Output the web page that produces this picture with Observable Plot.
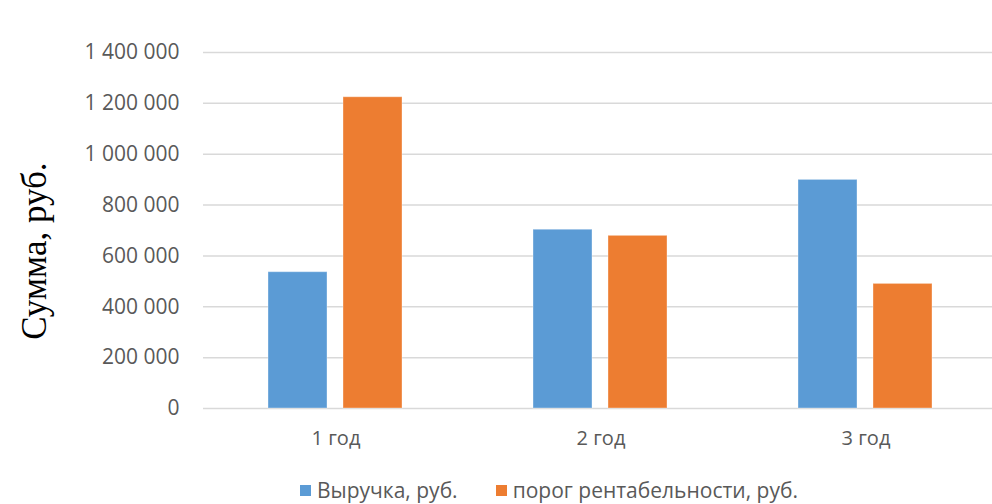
<!DOCTYPE html>
<html><head><meta charset="utf-8">
<script src="https://cdn.jsdelivr.net/npm/d3@7"></script>
<script src="https://cdn.jsdelivr.net/npm/@observablehq/plot@0.6"></script>
<style>
body{margin:0;background:#fff;width:992px;height:504px;overflow:hidden;font-family:"Open Sans",sans-serif;}
#chart svg{display:block;}
#legend{display:flex;justify-content:center;align-items:center;height:32px;padding-top:8px;gap:38px;color:#595959;font-size:21px;line-height:1;padding-left:106px;box-sizing:border-box;}
#legend .item{display:flex;align-items:center;gap:6px;}
#legend .sw{width:11px;height:11px;display:inline-block;}
</style></head><body><div id="chart"></div><div id="legend"></div>
<script>
const years = ["1 год", "2 год", "3 год"];
const seriesNames = ["Выручка, руб.", "порог рентабельности, руб."];
const revenue = [536000, 703000, 899000];
const breakEven = [1224000, 679000, 490000];
const yTicks = [0, 200000, 400000, 600000, 800000, 1000000, 1200000, 1400000];
const colors = ["#5B9BD5", "#ED7D31"];
const yLabel = "Сумма, руб.";

const data = years.flatMap((y, i) => [
  {year: y, series: seriesNames[0], value: revenue[i]},
  {year: y, series: seriesNames[1], value: breakEven[i]}
]);
const fmt = d => d3.format(",")(d).replace(/,/g, " ");

const chart = Plot.plot({
  width: 992, height: 470,
  marginLeft: 203, marginRight: -6, marginTop: 52, marginBottom: 62,
  style: {fontFamily: "Open Sans", fontSize: "20px", color: "#595959", background: "white", overflow: "hidden"},
  fx: {domain: years, padding: 0, label: null, axis: null},
  x: {domain: seriesNames, paddingInner: 0.21, paddingOuter: 0.85, axis: null},
  y: {domain: [0, 1400000], label: null},
  color: {domain: seriesNames, range: colors},
  marks: [
    Plot.ruleY(yTicks, {stroke: "#d9d9d9", strokeWidth: 1.5}),
    Plot.barY(data, {fx: "year", x: "series", y: "value", fill: "series", stroke: "white", strokeOpacity: 0.35, strokeWidth: 1}),
    Plot.axisY(yTicks, {tickFormat: fmt, tickSize: 0, tickPadding: 24, label: null, fill: "#595959", fontSize: 21}),
    Plot.axisFx({anchor: "bottom", tickSize: 0, tickPadding: 22, label: null, fill: "#595959"})
  ]
});
document.getElementById("chart").appendChild(chart);

d3.select(chart).append("text")
  .attr("transform", "translate(34,251) rotate(-90)")
  .attr("text-anchor", "middle")
  .attr("dominant-baseline", "central")
  .attr("font-family", "'Liberation Serif', serif")
  .attr("font-size", 35)
  .attr("fill", "#000")
  .text(yLabel);

const legend = d3.select("#legend");
seriesNames.forEach((s, i) => {
  const it = legend.append("div").attr("class", "item");
  it.append("span").attr("class", "sw").style("background", colors[i]);
  it.append("span").text(s);
});
</script>
</body></html>
